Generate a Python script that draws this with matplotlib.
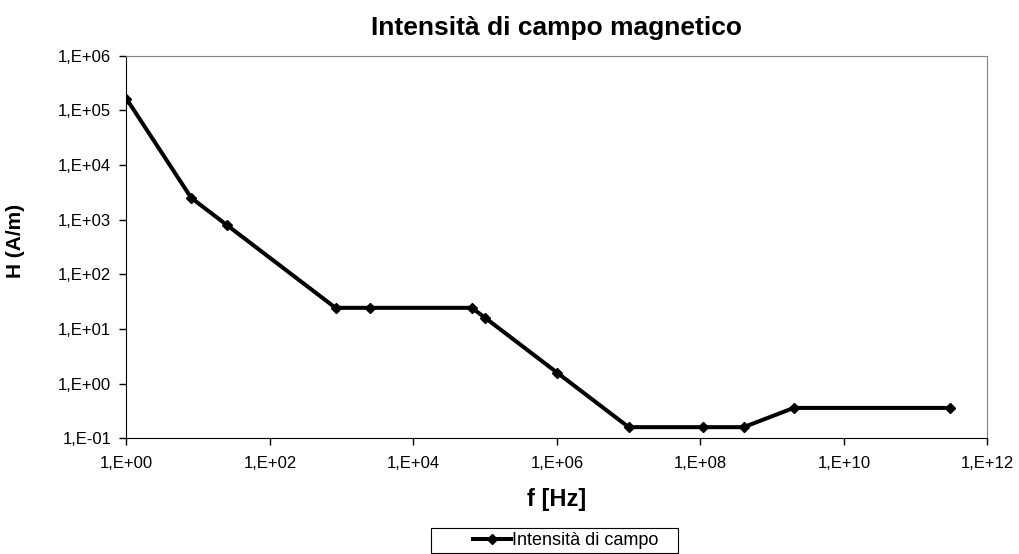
import numpy as np
import matplotlib.pyplot as plt
from matplotlib.patches import Rectangle
from matplotlib.ticker import FixedLocator, NullLocator, FuncFormatter

plt.rcParams['font.family'] = ['Liberation Sans', 'DejaVu Sans']

# frequenza [Hz] e intensità di campo H [A/m]
freq = [1, 8, 25, 820, 2500, 65000, 1e5, 1e6, 1e7, 1.1e8, 4e8, 2e9, 3e11]
H = [1.63e5, 2.5e3, 800, 24.4, 24.4, 24.4, 16, 1.6, 0.16, 0.16, 0.16, 0.36, 0.36]

xticks = [1e0, 1e2, 1e4, 1e6, 1e8, 1e10, 1e12]
yticks = [1e-1, 1e0, 1e1, 1e2, 1e3, 1e4, 1e5, 1e6]


def excel_sci(v, pos):
    e = int(round(np.log10(v)))
    return "1,E%s%02d" % ("+" if e >= 0 else "-", abs(e))


fig = plt.figure(figsize=(10.19, 5.54), dpi=100)
ax = fig.add_axes([0.1241, 0.2088, 0.8449, 0.6907])

ax.plot(freq, H, color='black', lw=2.9, marker='D', ms=5.5,
        label='Intensità di campo')
ax.set_xscale('log')
ax.set_yscale('log')
ax.set_xlim(1e0, 1e12)
ax.set_ylim(1e-1, 1e6)

ax.xaxis.set_major_locator(FixedLocator(xticks))
ax.yaxis.set_major_locator(FixedLocator(yticks))
ax.xaxis.set_minor_locator(NullLocator())
ax.yaxis.set_minor_locator(NullLocator())
ax.xaxis.set_major_formatter(FuncFormatter(excel_sci))
ax.yaxis.set_major_formatter(FuncFormatter(excel_sci))
ax.tick_params(direction='out', length=5, width=1, labelsize=12)
ax.tick_params(axis='x', pad=8)
ax.tick_params(axis='y', pad=6)

for side in ['top', 'right']:
    ax.spines[side].set_color('#808080')
for side in ['left', 'bottom']:
    ax.spines[side].set_color('black')

ax.set_title('Intensità di campo magnetico', fontsize=19, fontweight='bold', pad=15)
ax.set_xlabel('f [Hz]', fontsize=17, fontweight='bold', labelpad=12)
ax.set_ylabel('H (A/m)', fontsize=15, fontweight='bold')
ax.yaxis.set_label_coords(-0.118, 0.515)

# riquadro della legenda
fig.patches.append(Rectangle((0.423, 0.0018), 0.2424, 0.0451, transform=fig.transFigure,
                             fill=False, edgecolor='black', lw=0.8))
fig.legend(loc='center', bbox_to_anchor=(0.5555, 0.0244), fontsize=13,
           frameon=False, handlelength=2.1, handletextpad=0.05,
           borderpad=0, borderaxespad=0)

fig.savefig('out.png', dpi=100)
